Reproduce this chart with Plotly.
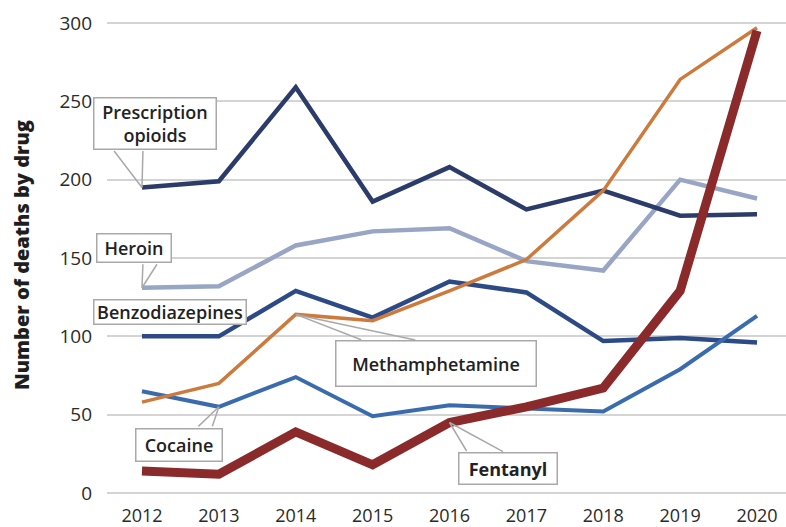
import plotly.graph_objects as go

years = [2012, 2013, 2014, 2015, 2016, 2017, 2018, 2019, 2020]

prescription_opioids = [195, 199, 259, 186, 208, 181, 193, 177, 178]
heroin = [131, 132, 158, 167, 169, 148, 142, 200, 188]
benzodiazepines = [100, 100, 129, 112, 135, 128, 97, 99, 96]
methamphetamine = [58, 70, 114, 110, 129, 149, 193, 264, 297]
cocaine = [65, 55, 74, 49, 56, 54, 52, 79, 113]
fentanyl = [14, 12, 39, 18, 45, 55, 67, 129, 295]

y_ticks = [0, 50, 100, 150, 200, 250, 300]

FONT = "'Open Sans', Lato, sans-serif"

series = [
    ("Heroin", heroin, "#98a5c4", 4.5),
    ("Prescription opioids", prescription_opioids, "#2b3c6a", 4.5),
    ("Benzodiazepines", benzodiazepines, "#2c4a86", 4.5),
    ("Cocaine", cocaine, "#3a6cad", 4),
    ("Methamphetamine", methamphetamine, "#cd7a3d", 3.5),
    ("Fentanyl", fentanyl, "#8b2a2b", 9),
]

fig = go.Figure()
for name, vals, color, width in series:
    fig.add_trace(go.Scatter(
        x=years, y=vals, name=name, mode="lines",
        line=dict(color=color, width=width),
        showlegend=False, hoverinfo="x+y+name",
    ))

EDGE = dict(text="", showarrow=True, arrowhead=0, arrowwidth=1.5,
            arrowcolor="#a9a9a9", axref="pixel", ayref="pixel")


def callout(label, year, value, shift, size, edges, bold=False):
    """Speech-bubble label: a boxed text placed relative to a data point,
    with two thin edges running from the box down/up to that point."""
    for ex, ey in edges:
        fig.add_annotation(x=year, y=value, ax=ex, ay=ey, **EDGE)
    text = f"<b>{label}</b>" if bold else label
    fig.add_annotation(
        x=year, y=value, text=text, showarrow=False,
        xshift=shift[0], yshift=shift[1],
        width=size[0] - 3, height=size[1] - 3, borderpad=0,
        bgcolor="white", bordercolor="#a9a9a9", borderwidth=1.5,
        font=dict(family=FONT, size=18, color="#222222",
                  weight=700 if bold else 600),
    )


callout("Prescription<br>opioids", 2012, prescription_opioids[0],
        (13, 64), (124, 53), [(-29, -38), (1, -38)])
callout("Heroin", 2012, heroin[0], (-8, 40), (76, 30), [(1, -25), (16, -25)])
callout("Benzodiazepines", 2012, benzodiazepines[0], (28, 24), (154, 26), [])
callout("Methamphetamine", 2014, methamphetamine[2], (140, -49), (202, 47),
        [(67, 26), (121, 26)])
callout("Cocaine", 2013, cocaine[1], (-40, -38), (88, 34), [(-22, 21), (-7, 21)])
callout("Fentanyl", 2016, fentanyl[4], (58, -46), (100, 33),
        [(18, 30), (55, 30)], bold=True)

fig.update_layout(
    width=786, height=527,
    margin=dict(l=107, r=0, t=10, b=27),
    plot_bgcolor="white", paper_bgcolor="white",
    font=dict(family=FONT, color="#2a2a2a"),
    xaxis=dict(
        range=[2011.545, 2020.377], tickvals=years,
        tickfont=dict(size=18, color="#2a2a2a", weight=500),
        showgrid=False, zeroline=False, showline=False, ticks="",
        ticklabelstandoff=3, automargin=False,
    ),
    yaxis=dict(
        range=[-4.47, 308.3], tickvals=y_ticks,
        tickfont=dict(size=19, color="#2a2a2a", weight=500),
        showgrid=True, gridcolor="#d4d4d4", gridwidth=2,
        zeroline=False, showline=False, ticks="",
        ticklabelstandoff=14, automargin=False,
        title=dict(text="Number of deaths by drug",
                   font=dict(size=20, color="#1e1e1e", weight=800),
                   standoff=24),
    ),
)

fig.write_html("out.html")
